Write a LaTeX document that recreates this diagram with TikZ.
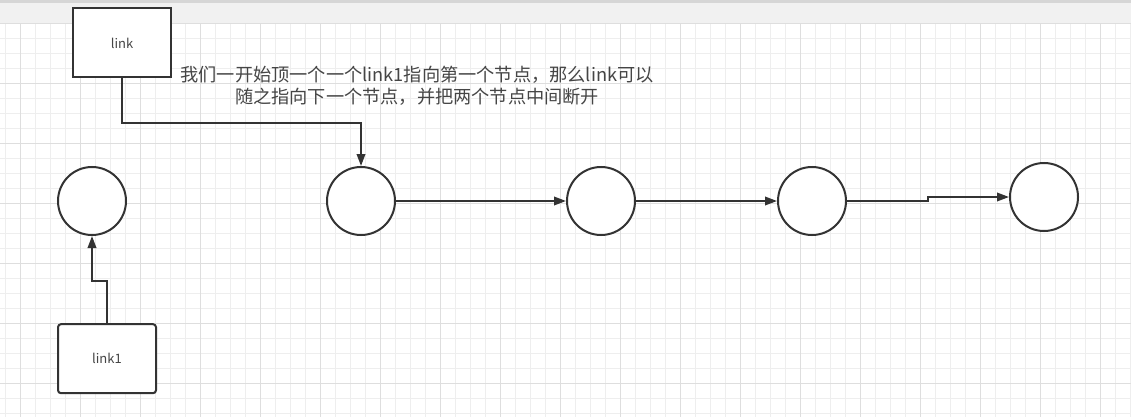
\documentclass[tikz,border=0pt]{standalone}
\usepackage{fontspec}
\setmainfont{Noto Sans CJK SC}
\usetikzlibrary{arrows.meta}
\definecolor{minorgrid}{HTML}{EEEEEE}
\definecolor{majorgrid}{HTML}{DEDEDE}
\definecolor{ink}{HTML}{333333}
\definecolor{textgray}{HTML}{454545}
\definecolor{band}{HTML}{F1F1F1}
\definecolor{bandtop}{HTML}{D6D6D6}
\tikzset{
  nodecirc/.style={circle, draw=ink, line width=2pt, minimum size=68pt, inner sep=0pt, fill=white},
  ptrbox/.style={rectangle, draw=ink, line width=2pt, minimum width=98pt, minimum height=69pt, inner sep=0pt, fill=white, text=textgray, font=\fontsize{13}{15}\selectfont},
  arr/.style={draw=ink, line width=2pt, -{Triangle[length=12pt,width=8.5pt]}},
}
\begin{document}
\begin{tikzpicture}[x=1pt,y=-1pt]
\useasboundingbox (0,0) rectangle (1131,417);
\fill[white] (0,0) rectangle (1131,417);
% grid
\foreach \gx in {5.7,20.7,...,1131} {\draw[minorgrid, line width=1pt] (\gx,23) -- (\gx,417);}
\foreach \gy in {23.3,38.3,...,417} {\draw[minorgrid, line width=1pt] (0,\gy) -- (1131,\gy);}
\foreach \gx in {20.7,80.7,...,1131} {\draw[majorgrid, line width=1pt] (\gx,23) -- (\gx,417);}
\foreach \gy in {23.3,83.3,...,417} {\draw[majorgrid, line width=1pt] (0,\gy) -- (1131,\gy);}
% top band
\fill[band] (0,0) rectangle (1131,23);
\fill[bandtop] (0,0) rectangle (1131,3);
% nodes
\node[ptrbox] (link) at (122,43) {link};
\node[ptrbox, rounded corners=3pt] (link1) at (107,358.7) {link1};
\node[nodecirc] (c1) at (92,201) {};
\node[nodecirc] (c2) at (361,201) {};
\node[nodecirc] (c3) at (601,201) {};
\node[nodecirc] (c4) at (812,201) {};
\node[nodecirc] (c5) at (1044,197) {};
\node[text=textgray, align=center, font=\fontsize{18.2}{22}\selectfont, inner sep=0pt] (note) at (417,86)
  {我们一开始顶一个一个link1指向第一个节点，那么link可以\\随之指向下一个节点，并把两个节点中间断开};
% connectors
\draw[arr] (link.south) -- ++(0,44) -| (c2.north);
\draw[arr] (link1.north) -- ++(0,-42) -| (c1.south);
\draw[arr] (c2.east) -- (c3.west);
\draw[arr] (c3.east) -- (c4.west);
\draw[arr] (c4.east) -- ++(81,0) |- (c5.west);
\end{tikzpicture}
\end{document}
